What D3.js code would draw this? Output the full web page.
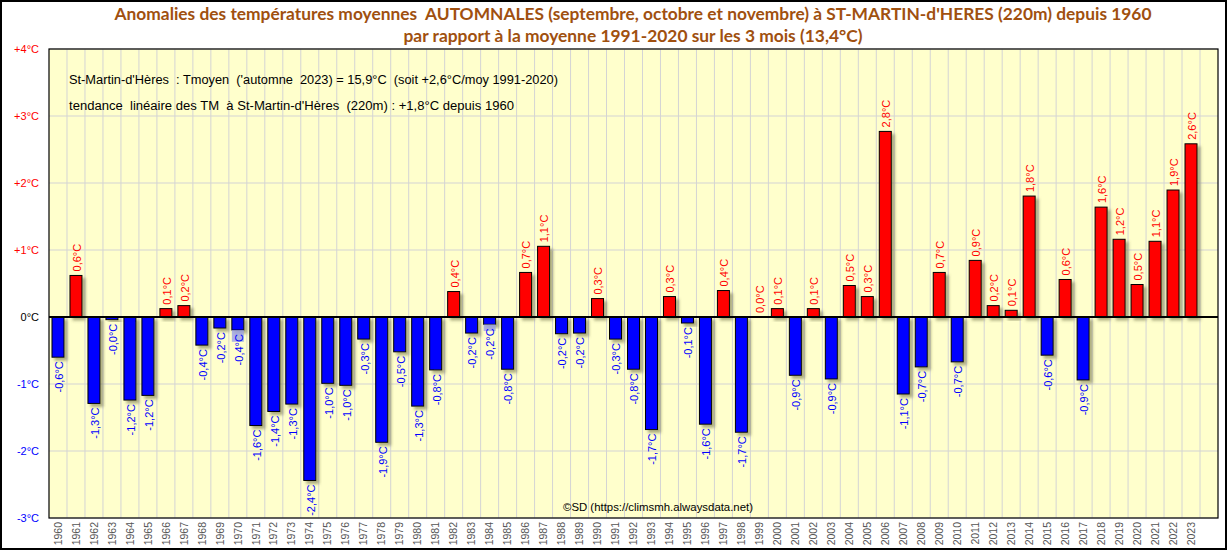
<!DOCTYPE html>
<html><head><meta charset="utf-8">
<script src="https://cdn.jsdelivr.net/npm/d3@7/dist/d3.min.js"></script>
<style>body{margin:0;background:#fff}svg{display:block}text{white-space:pre}</style>
</head><body>
<svg id="c" width="1227" height="550"></svg>
<script>
const years = d3.range(1960, 2024);
const values = [-0.60,0.62,-1.29,-0.04,-1.24,-1.17,0.125,0.17,-0.42,-0.165,-0.195,-1.62,-1.41,-1.30,-2.44,-0.99,-1.02,-0.33,-1.87,-0.52,
 -1.33,-0.79,0.38,-0.24,-0.11,-0.78,0.665,1.055,-0.25,-0.24,0.275,-0.33,-0.78,-1.68,0.305,-0.09,-1.60,0.395,-1.72,0.0,
 0.125,-0.87,0.125,-0.925,0.47,0.305,2.77,-1.15,-0.745,0.665,-0.67,0.845,0.17,0.10,1.805,-0.57,0.56,-0.94,1.64,1.16,
 0.485,1.13,1.895,2.585];
const labels = ["-0,6","0,6","-1,3","-0,0","-1,2","-1,2","0,1","0,2","-0,4","-0,2","-0,4","-1,6","-1,4","-1,3","-2,4","-1,0","-1,0","-0,3","-1,9","-0,5",
 "-1,3","-0,8","0,4","-0,2","-0,2","-0,8","0,7","1,1","-0,2","-0,2","0,3","-0,3","-0,8","-1,7","0,3","-0,1","-1,6","0,4","-1,7","0,0",
 "0,1","-0,9","0,1","-0,9","0,5","0,3","2,8","-1,1","-0,7","0,7","-0,7","0,9","0,2","0,1","1,8","-0,6","0,6","-0,9","1,6","1,2",
 "0,5","1,1","1,9","2,6"];
const highlightYears = [1970, 1984];
const highlightTo = [-0.37, -0.21];
const yTicks = [-3,-2,-1,0,1,2,3,4];
const yTickLabels = ["-3°C","-2°C","-1°C","0°C","+1°C","+2°C","+3°C","+4°C"];
const title1 = "Anomalies des températures moyennes  AUTOMNALES (septembre, octobre et novembre) à ST-MARTIN-d'HERES (220m) depuis 1960";
const title2 = "par rapport à la moyenne 1991-2020 sur les 3 mois (13,4°C)";
const note1 = "St-Martin-d'Hères  : Tmoyen  ('automne  2023) = 15,9°C  (soit +2,6°C/moy 1991-2020)";
const note2 = "tendance  linéaire des TM  à St-Martin-d'Hères  (220m) : +1,8°C depuis 1960";
const credit = "©SD (https://climsmh.alwaysdata.net)";

const svg = d3.select("#c");
const L = 49, R = 1218, T = 49, B = 518;
const x = d3.scaleBand().domain([...years, "pad"]).range([L, R]).padding(0);
const y = d3.scaleLinear().domain([-3, 4]).range([B, T]);
const bw = 12;
const cx = d => x(d) + x.bandwidth() / 2;

const defs = svg.append("defs");
const f = defs.append("filter").attr("id","sh").attr("x","-50%").attr("y","-50%").attr("width","200%").attr("height","200%");
f.append("feDropShadow").attr("dx",3).attr("dy",3).attr("stdDeviation",1.6).attr("flood-color","#6b6b40").attr("flood-opacity",0.55);

svg.append("rect").attr("x",1).attr("y",1).attr("width",1225).attr("height",548).attr("fill","#fff").attr("stroke","#000").attr("stroke-width",2);
svg.append("rect").attr("x",L).attr("y",T).attr("width",R-L).attr("height",B-T).attr("fill","#ffffcc");

const gx = [...years, "pad"].map(d => x(d)).slice(1);
svg.append("g").selectAll("line").data(gx).join("line")
  .attr("x1",d=>d).attr("x2",d=>d).attr("y1",T).attr("y2",B).attr("stroke","#d4d4d4").attr("stroke-width",1);
svg.append("g").selectAll("line").data(yTicks).join("line")
  .attr("x1",L).attr("x2",R).attr("y1",d=>y(d)).attr("y2",d=>y(d)).attr("stroke","#d4d4d4").attr("stroke-width",1.2);

const data = years.map((yr,i)=>({yr, v: values[i], lab: labels[i]}));
svg.append("g").selectAll("rect").data(data.filter(d=>d.v!==0)).join("rect")
  .attr("x",d=>cx(d.yr)-bw/2).attr("width",bw)
  .attr("y",d=>y(Math.max(0,d.v))).attr("height",d=>Math.abs(y(d.v)-y(0)))
  .attr("fill",d=>d.v>0?"#ff0000":"#0000ff").attr("stroke","#000").attr("stroke-width",1)
  .attr("filter","url(#sh)");

svg.append("g").selectAll("rect").data(highlightYears.map((yr,i)=>({yr, to: highlightTo[i], v: values[years.indexOf(yr)]}))).join("rect")
  .attr("x",d=>cx(d.yr)-bw/2).attr("width",bw)
  .attr("y",d=>y(d.v)).attr("height",d=>y(d.to)-y(d.v))
  .attr("fill","#9aa0e6").attr("opacity",0.8);

svg.append("line").attr("x1",L).attr("x2",R).attr("y1",y(0)).attr("y2",y(0)).attr("stroke","#000").attr("stroke-width",2);
svg.append("rect").attr("x",L).attr("y",T).attr("width",R-L).attr("height",B-T).attr("fill","none").attr("stroke","#000").attr("stroke-width",1.2);

svg.append("g").selectAll("text").data(data).join("text")
  .attr("transform",d=>{
    const pos = d.lab.indexOf("-")!==0;
    const yy = pos ? y(Math.max(0,d.v)) - 4 : y(d.v) + 4;
    return `translate(${cx(d.yr)+1},${yy}) rotate(-90)`;
  })
  .attr("text-anchor",d=>d.lab.indexOf("-")!==0?"start":"end")
  .attr("dy","0.35em")
  .attr("font-family","Liberation Sans, Arial, sans-serif").attr("font-size",11)
  .attr("fill",d=>d.lab.indexOf("-")!==0?"#ff0000":"#0000ff")
  .text(d=>d.lab+"°C");

svg.append("g").selectAll("text").data(yTicks).join("text")
  .attr("x",39).attr("y",d=>y(d)).attr("dy","0.35em").attr("text-anchor","end")
  .attr("font-family","Liberation Sans, Arial, sans-serif").attr("font-size",11)
  .attr("fill",d=>d>0?"#ff0000":(d<0?"#0000ff":"#000"))
  .text((d,i)=>yTickLabels[i]);

svg.append("g").selectAll("text").data(years).join("text")
  .attr("transform",d=>`translate(${cx(d)},${B+4}) rotate(-90)`)
  .attr("text-anchor","end").attr("dy","0.35em")
  .attr("font-family","Liberation Sans, Arial, sans-serif").attr("font-size",10.5)
  .attr("fill","#555").text(d=>d);

svg.append("text").attr("x",633).attr("y",20).attr("text-anchor","middle")
  .attr("font-family","Lato, sans-serif").attr("font-weight","bold").attr("font-size",17.5)
  .attr("fill","#a0500f").attr("textLength",1037).attr("lengthAdjust","spacingAndGlyphs").text(title1);
svg.append("text").attr("x",633).attr("y",42).attr("text-anchor","middle")
  .attr("font-family","Lato, sans-serif").attr("font-weight","bold").attr("font-size",17.5)
  .attr("fill","#a0500f").attr("textLength",459).attr("lengthAdjust","spacingAndGlyphs").text(title2);

svg.append("text").attr("x",69).attr("y",84).attr("font-family","Liberation Sans, Arial, sans-serif").attr("font-size",12.5)
  .attr("textLength",489).attr("lengthAdjust","spacingAndGlyphs").attr("fill","#000").text(note1);
svg.append("text").attr("x",69).attr("y",110).attr("font-family","Liberation Sans, Arial, sans-serif").attr("font-size",12.5)
  .attr("textLength",445).attr("lengthAdjust","spacingAndGlyphs").attr("fill","#000").text(note2);
svg.append("text").attr("x",563).attr("y",511).attr("font-family","Liberation Sans, Arial, sans-serif").attr("font-size",11.5)
  .attr("textLength",190).attr("lengthAdjust","spacingAndGlyphs").attr("fill","#000").text(credit);
</script>
</body></html>
